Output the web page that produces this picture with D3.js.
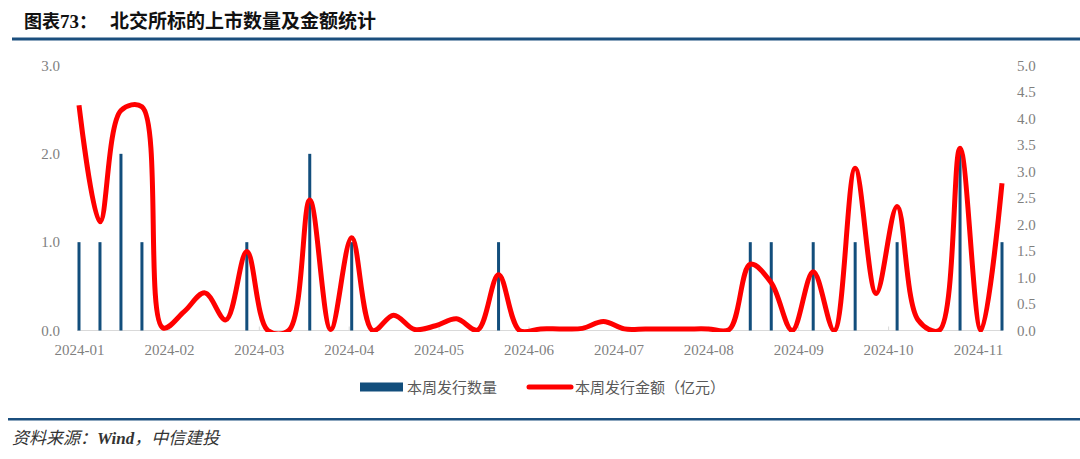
<!DOCTYPE html>
<html>
<head>
<meta charset="utf-8">
<script src="https://cdn.jsdelivr.net/npm/d3@7"></script>
<style>
	body { margin: 0; background: #fff; }
	svg { display: block; }
</style>
</head>
<body>
<div id="plot"></div>
<script>
// weekly data, 2024
var weeks = ["2024-01-07","2024-01-14","2024-01-21","2024-01-28",
	"2024-02-04","2024-02-11","2024-02-18","2024-02-25",
	"2024-03-03","2024-03-10","2024-03-17","2024-03-24","2024-03-31",
	"2024-04-07","2024-04-14","2024-04-21","2024-04-28",
	"2024-05-05","2024-05-12","2024-05-19","2024-05-26",
	"2024-06-02","2024-06-09","2024-06-16","2024-06-23","2024-06-30",
	"2024-07-07","2024-07-14","2024-07-21","2024-07-28",
	"2024-08-04","2024-08-11","2024-08-18","2024-08-25",
	"2024-09-01","2024-09-08","2024-09-15","2024-09-22","2024-09-29",
	"2024-10-06","2024-10-13","2024-10-20","2024-10-27",
	"2024-11-03","2024-11-10"];
var counts = [1,1,2,1,0,0,0,0,1,0,0,2,0,1,0,0,0,0,0,0,1,0,0,0,0,0,0,0,0,0,0,0,1,1,0,1,0,1,0,1,0,0,2,0,1];
var amounts = [4.25,2.05,4.15,4.22,0.05,0.35,0.71,0.20,1.49,0,0,2.46,0.02,1.75,0,0.29,0.02,0.09,0.22,0.01,
	1.05,0,0.03,0.03,0.04,0.17,0.03,0.03,0.03,0.03,0.03,0.02,1.25,0.90,0,1.11,0,3.06,0.70,2.34,
	0.20,0,3.44,0,2.78];
var xTicks = ["2024-01-07","2024-02-06","2024-03-07","2024-04-06","2024-05-06","2024-06-05",
	"2024-07-05","2024-08-04","2024-09-03","2024-10-03","2024-11-02"];
var leftTicks = [0, 1, 2, 3];
var rightTicks = [0, 0.5, 1, 1.5, 2, 2.5, 3, 3.5, 4, 4.5, 5];
var seriesNames = ["本周发行数量", "本周发行金额（亿元）"];
var titleNo = "73";
var titleText = "北交所标的上市数量及金额统计";
var sourceParts = ["资料来源：", "Wind", "，中信建投"];

var W = 1080, H = 459;
var blue = "#124e7c", red = "#ff0000", gray = "#7f7f7f";
var serif = "'Liberation Serif', 'Times New Roman', serif";
var cjk = "'Noto Sans CJK SC', 'Noto Sans', sans-serif";

var parse = d3.timeParse("%Y-%m-%d");
var dates = weeks.map(parse);

var svg = d3.select("#plot").append("svg")
	.attr("width", W)
	.attr("height", H);

svg.append("rect").attr("width", W).attr("height", H).attr("fill", "#fff");

// title
var title = svg.append("text")
	.attr("x", 24)
	.attr("y", 28)
	.attr("font-weight", "bold")
	.attr("font-size", 18)
	.attr("fill", "#111");
title.append("tspan").attr("font-family", cjk).text("图表");
title.append("tspan").attr("font-family", serif).attr("font-size", 19).text(titleNo);
title.append("tspan").attr("font-family", cjk).text("：");

svg.append("text")
	.attr("x", 110)
	.attr("y", 28)
	.attr("font-family", cjk)
	.attr("font-weight", "bold")
	.attr("font-size", 19)
	.attr("fill", "#111")
	.text(titleText);

svg.append("rect").attr("x", 12).attr("y", 37.5).attr("width", W - 12).attr("height", 3).attr("fill", "#1b4f7e");

// scales
var x = d3.scaleTime()
	.domain([dates[0], dates[dates.length - 1]])
	.range([79, 1002]);
var yL = d3.scaleLinear().domain([0, 3]).range([330.5, 65.5]);
var yR = d3.scaleLinear().domain([0, 5]).range([330.5, 65.5]);

// baseline
svg.append("line")
	.attr("x1", x.range()[0] - 2).attr("x2", x.range()[1] + 1)
	.attr("y1", yL(0)).attr("y2", yL(0))
	.attr("stroke", "#d9d9d9").attr("stroke-width", 1.2);

// x axis
var xAxis = svg.append("g")
	.attr("transform", "translate(0," + yL(0) + ")")
	.call(d3.axisBottom(x)
		.tickValues(xTicks.map(parse))
		.tickFormat(d3.timeFormat("%Y-%m"))
		.tickSize(-4)
		.tickPadding(14));
xAxis.select(".domain").remove();
xAxis.selectAll("line").attr("stroke", "#d9d9d9");
xAxis.selectAll("text").attr("font-family", serif).attr("font-size", 15).attr("fill", gray);

// left axis
var left = svg.append("g")
	.attr("transform", "translate(77,0)")
	.call(d3.axisLeft(yL).tickValues(leftTicks).tickFormat(d3.format(".1f")).tickSize(0).tickPadding(17));
left.select(".domain").remove();
left.selectAll("text").attr("font-family", serif).attr("font-size", 15).attr("fill", gray);

// right axis
var right = svg.append("g")
	.attr("transform", "translate(1003,0)")
	.call(d3.axisRight(yR).tickValues(rightTicks).tickFormat(d3.format(".1f")).tickSize(0).tickPadding(14));
right.select(".domain").remove();
right.selectAll("text").attr("font-family", serif).attr("font-size", 15).attr("fill", gray);

// bars
svg.append("g")
	.selectAll("rect")
	.data(dates.map(function(d, i) { return {date: d, v: counts[i]}; }).filter(function(d) { return d.v > 0; }))
	.enter().append("rect")
	.attr("x", function(d) { return x(d.date) - 1.5; })
	.attr("y", function(d) { return yL(d.v); })
	.attr("width", 3)
	.attr("height", function(d) { return yL(0) - yL(d.v); })
	.attr("fill", blue);

// line, clipped at the plot area
svg.append("clipPath").attr("id", "clip")
	.append("rect").attr("x", 60).attr("y", 40).attr("width", 960).attr("height", yL(0) + 1.5 - 40);

var line = d3.line()
	.x(function(d, i) { return x(dates[i]); })
	.y(function(d) { return yR(d); })
	.curve(d3.curveCatmullRom);

svg.append("path")
	.datum(amounts)
	.attr("clip-path", "url(#clip)")
	.attr("d", line)
	.attr("fill", "none")
	.attr("stroke", red)
	.attr("stroke-width", 5)
	.attr("stroke-linejoin", "round");

// legend
var lg = svg.append("g").attr("font-family", cjk).attr("font-size", 15).attr("fill", "#595959");
lg.append("rect").attr("x", 360).attr("y", 382.5).attr("width", 43).attr("height", 9).attr("fill", blue);
lg.append("text").attr("x", 407).attr("y", 392.5).text(seriesNames[0]);
lg.append("line").attr("x1", 529).attr("x2", 571).attr("y1", 387).attr("y2", 387)
	.attr("stroke", red).attr("stroke-width", 5).attr("stroke-linecap", "round");
lg.append("text").attr("x", 575).attr("y", 392.5).text(seriesNames[1]);

// source
svg.append("rect").attr("x", 8).attr("y", 418).attr("width", W - 8).attr("height", 2.5).attr("fill", "#1b4f7e");
var src = svg.append("text")
	.attr("x", 12)
	.attr("y", 444)
	.attr("font-style", "italic")
	.attr("font-size", 17)
	.attr("fill", "#333");
src.append("tspan").attr("font-family", cjk).text(sourceParts[0]);
src.append("tspan").attr("font-family", serif).attr("font-weight", "bold").text(sourceParts[1]);
src.append("tspan").attr("font-family", cjk).text(sourceParts[2]);
</script>
</body>
</html>
